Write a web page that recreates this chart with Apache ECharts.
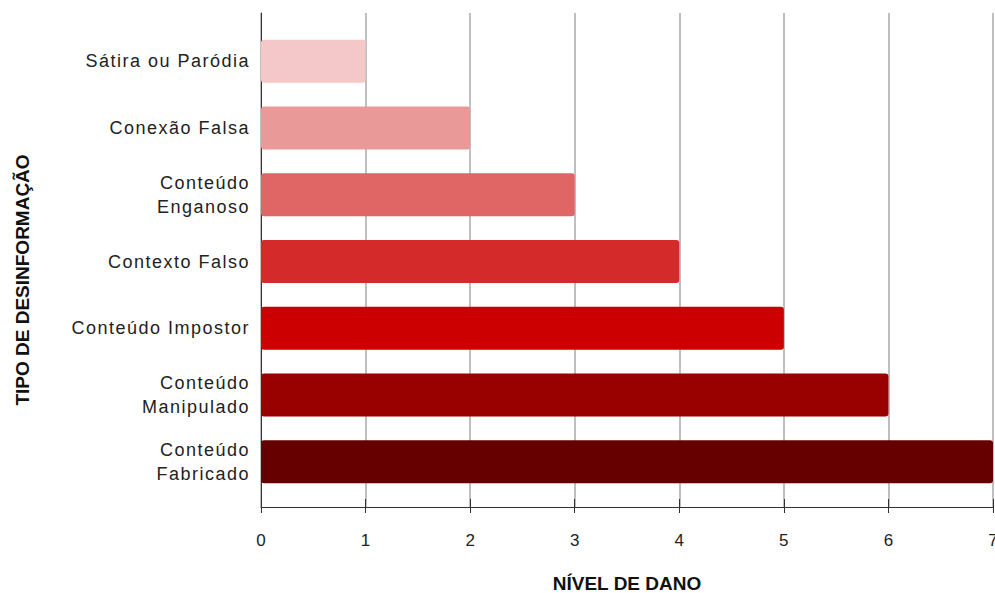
<!DOCTYPE html>
<html>
<head>
<meta charset="utf-8">
<script src="https://cdn.jsdelivr.net/npm/echarts@6/dist/echarts.min.js"></script>
<style>
  html, body { margin: 0; padding: 0; background: #fff; }
  #chart { width: 995px; height: 593px; }
  /* rótulos das categorias um pouco espaçados, como no original */
  #chart text[text-anchor="end"] { letter-spacing: 1.5px; }
</style>
</head>
<body>
<div id="chart"></div>
<script>
// tipos de desinformação, de cima para baixo
var categorias = ['Sátira ou Paródia', 'Conexão Falsa', 'Conteúdo\nEnganoso', 'Contexto Falso',
  'Conteúdo Impostor', 'Conteúdo\nManipulado', 'Conteúdo\nFabricado'];
var nivelDano = [1, 2, 3, 4, 5, 6, 7];
var coresBarras = ['#f4c8c8', '#ea9999', '#e06666', '#d52a2a', '#cc0000', '#990000', '#660000'];
var ticksX = [0, 1, 2, 3, 4, 5, 6, 7];

var chart = echarts.init(document.getElementById('chart'), null, { renderer: 'svg' });
var fonte = 'Liberation Sans, Arial, sans-serif';
var fonteEstreita = 'Liberation Sans Narrow, Arial Narrow, Liberation Sans, sans-serif';

chart.setOption({
  animation: false,
  grid: [
    // grade externa: linhas e eixos
    { left: 261, right: 2, top: 13, bottom: 86, containLabel: false, outerBoundsMode: 'none' },
    // grade interna: barras
    { left: 261, right: 2, top: 28, bottom: 98, containLabel: false, outerBoundsMode: 'none' }
  ],
  xAxis: [
    {
      gridIndex: 0, type: 'value', min: ticksX[0], max: ticksX[ticksX.length - 1], interval: 1,
      name: 'NÍVEL DE DANO', nameLocation: 'middle', nameGap: 67,
      nameTextStyle: { fontFamily: fonteEstreita, fontWeight: 'bold', fontSize: 19, color: '#111' },
      axisLine: { show: true, lineStyle: { color: '#333', width: 1 } },
      axisTick: { show: true, length: 6, lineStyle: { color: '#333' } },
      axisLabel: { margin: 25, fontFamily: fonteEstreita, fontSize: 17, color: '#222' },
      splitLine: { show: true, lineStyle: { color: '#aaa', width: 1.5 } }
    },
    {
      gridIndex: 0, type: 'value', position: 'bottom', offset: 0, min: 0, max: 7, interval: 1,
      axisLine: { show: false },
      axisTick: { show: true, inside: true, length: 8, lineStyle: { color: '#333' } },
      axisLabel: { show: false },
      splitLine: { show: false }
    },
    {
      gridIndex: 1, type: 'value', min: 0, max: 7, show: false
    }
  ],
  yAxis: [
    {
      gridIndex: 0, type: 'category', inverse: true, data: categorias,
      axisLine: { show: true, lineStyle: { color: '#333', width: 1 } },
      axisTick: { show: false }, axisLabel: { show: false }, splitLine: { show: false }
    },
    {
      gridIndex: 1, type: 'category', inverse: true, data: categorias,
      axisLine: { show: false }, axisTick: { show: false },
      axisLabel: { margin: 11, fontFamily: fonte, fontSize: 18, color: '#222', lineHeight: 24, align: 'right' }
    }
  ],
  graphic: [
    {
      type: 'text', x: 22, y: 280, rotation: Math.PI / 2,
      style: {
        text: 'TIPO DE DESINFORMAÇÃO', textAlign: 'center', textVerticalAlign: 'middle',
        font: 'bold 19px "Liberation Sans Narrow", "Arial Narrow", Arial, sans-serif', fill: '#111'
      }
    }
  ],
  series: [
    {
      type: 'bar', xAxisIndex: 2, yAxisIndex: 1, barWidth: 43,
      data: nivelDano.map(function (v, i) {
        return { value: v, itemStyle: { color: coresBarras[i] } };
      }),
      itemStyle: { borderRadius: 3 }
    }
  ]
});
</script>
</body>
</html>
